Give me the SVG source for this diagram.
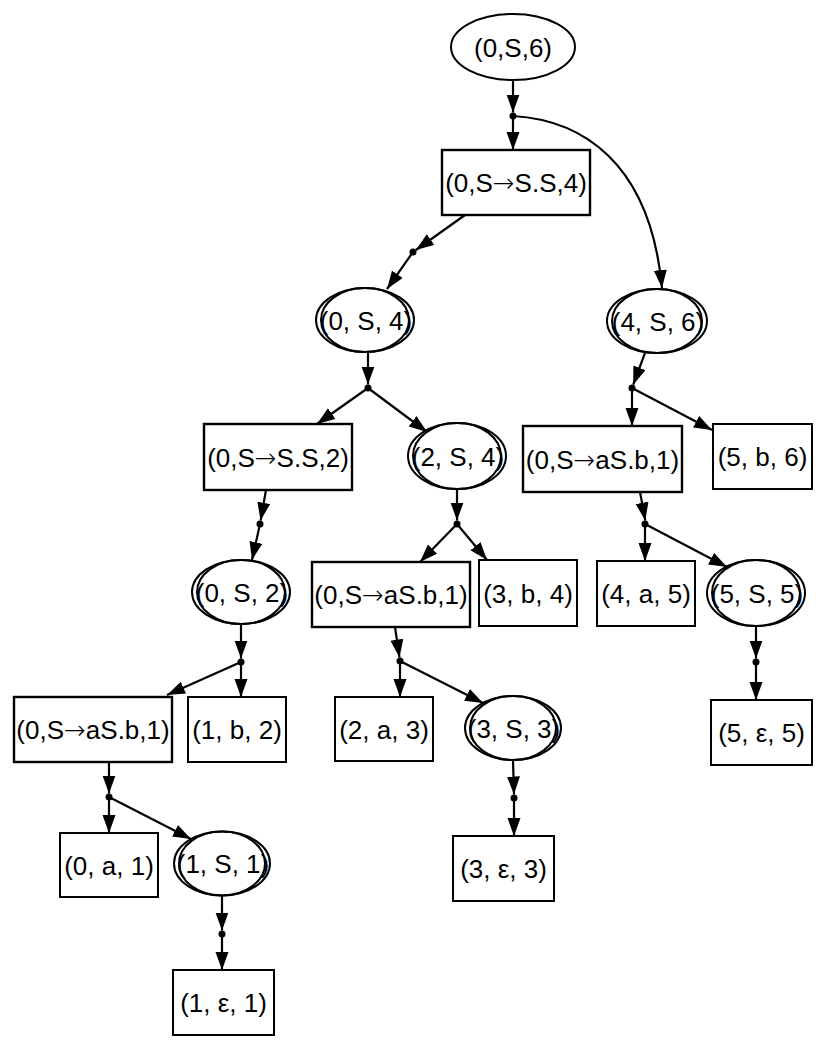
<svg xmlns="http://www.w3.org/2000/svg" width="830" height="1049" viewBox="0 0 830 1049">
<style>
  .n ellipse, .n rect { fill: none; stroke: #000; stroke-width: 2; }
  .n rect.rule { stroke-width: 2.4; }
  .n text { font-family: "Liberation Sans", Arial, sans-serif; font-size: 26px; text-anchor: middle; fill: #000; }
  .ar { font-family: "DejaVu Sans", sans-serif; font-size: 26px; font-weight: 200; }
  .dot { fill: #000; }
  #edges path { fill: none; stroke: #000; stroke-width: 2.2; marker-end: url(#arr); }
</style>
<defs>
  <marker id="arr" markerUnits="userSpaceOnUse" markerWidth="20" markerHeight="14" refX="18" refY="6.5" orient="auto">
    <path d="M0,0 L18,6.5 L0,13 Z" fill="#000"/>
  </marker>
</defs>
<rect width="830" height="1049" fill="#fff"/>

<g id="edges">
  <path d="M513,80 L513,112.5"/>
  <path d="M513,116 L513,150"/>
  <path d="M513,116 C580,120 650,160 662,288"/>
  <path d="M465,215 L415.9,250"/>
  <path d="M413,252 L387,289"/>
  <path d="M368,352 L368,384.5"/>
  <path d="M645,353 L633.2,384.7"/>
  <path d="M368,388 L317,424"/>
  <path d="M368,388 L427,432"/>
  <path d="M632,388 L632,426"/>
  <path d="M632,388 L712,430"/>
  <path d="M640,492 L645.3,520.6"/>
  <path d="M266,490 L260.6,520.5"/>
  <path d="M260,524 L252,560"/>
  <path d="M457,489 L457,520.5"/>
  <path d="M457,524 L420,562"/>
  <path d="M457,524 L487,560"/>
  <path d="M645,524 L645,561"/>
  <path d="M645,524 L727,567"/>
  <path d="M241,624 L241,658.5"/>
  <path d="M241,662 L167,695"/>
  <path d="M241,662 L241,697"/>
  <path d="M395,627 L399.5,657.5"/>
  <path d="M400,661 L400,697"/>
  <path d="M400,661 L483,703"/>
  <path d="M756,626 L756,658.5"/>
  <path d="M756,662 L756,700"/>
  <path d="M109,762 L109,793.5"/>
  <path d="M109,797 L109,833"/>
  <path d="M109,797 L191,839"/>
  <path d="M513,760 L514,794.5"/>
  <path d="M514,798 L514,836"/>
  <path d="M222,895 L222,930.5"/>
  <path d="M222,934 L222,970"/>
</g>

<g id="dots">
  <circle class="dot" id="d1" cx="513" cy="116" r="3.5"/>
  <circle class="dot" id="d2" cx="413" cy="252" r="3.5"/>
  <circle class="dot" id="d3" cx="368" cy="388" r="3.5"/>
  <circle class="dot" id="d4" cx="632" cy="388" r="3.5"/>
  <circle class="dot" id="d5" cx="260" cy="524" r="3.5"/>
  <circle class="dot" id="d6" cx="457" cy="524" r="3.5"/>
  <circle class="dot" id="d7" cx="645" cy="524" r="3.5"/>
  <circle class="dot" id="d8" cx="241" cy="662" r="3.5"/>
  <circle class="dot" id="d9" cx="400" cy="661" r="3.5"/>
  <circle class="dot" id="d10" cx="756" cy="662" r="3.5"/>
  <circle class="dot" id="d11" cx="109" cy="797" r="3.5"/>
  <circle class="dot" id="d12" cx="514" cy="798" r="3.5"/>
  <circle class="dot" id="d13" cx="222" cy="934" r="3.5"/>
</g>

<g id="n_0S6" class="n">
  <ellipse cx="513" cy="47" rx="62" ry="33"/>
  <text x="513" y="56.5">(0,S,6)</text>
</g>
<g id="r_0SSS4" class="n">
  <rect class="rule" x="442" y="150" width="148" height="65"/>
  <text x="516" y="192">(0,S<tspan class="ar">→</tspan>S.S,4)</text>
</g>
<g id="n_0S4" class="n">
  <ellipse cx="365" cy="320" rx="49" ry="32"/>
  <ellipse cx="365" cy="320" rx="44" ry="32"/>
  <text x="366" y="329.5">(0, S, 4)</text>
</g>
<g id="n_4S6" class="n">
  <ellipse cx="657" cy="321" rx="50" ry="32"/>
  <ellipse cx="657" cy="321" rx="45" ry="32"/>
  <text x="658" y="330.5">(4, S, 6)</text>
</g>
<g id="r_0SSS2" class="n">
  <rect class="rule" x="204" y="424" width="148" height="66"/>
  <text x="278" y="466.5">(0,S<tspan class="ar">→</tspan>S.S,2)</text>
</g>
<g id="n_2S4" class="n">
  <ellipse cx="457" cy="456" rx="49" ry="33"/>
  <ellipse cx="457" cy="456" rx="44" ry="33"/>
  <text x="458" y="465.5">(2, S, 4)</text>
</g>
<g id="r_R1" class="n">
  <rect class="rule" x="523" y="426" width="159" height="66"/>
  <text x="602.5" y="468.5">(0,S<tspan class="ar">→</tspan>aS.b,1)</text>
</g>
<g id="t_5b6" class="n">
  <rect x="713" y="424" width="99" height="65"/>
  <text x="762.5" y="465.5">(5, b, 6)</text>
</g>
<g id="n_0S2" class="n">
  <ellipse cx="241" cy="592" rx="49" ry="32"/>
  <ellipse cx="241" cy="592" rx="44" ry="32"/>
  <text x="242" y="601.5">(0, S, 2)</text>
</g>
<g id="r_M1" class="n">
  <rect class="rule" x="312" y="562" width="158" height="65"/>
  <text x="391" y="603.5">(0,S<tspan class="ar">→</tspan>aS.b,1)</text>
</g>
<g id="t_3b4" class="n">
  <rect x="479" y="560" width="98" height="66"/>
  <text x="528" y="602.5">(3, b, 4)</text>
</g>
<g id="t_4a5" class="n">
  <rect x="597" y="561" width="98" height="65"/>
  <text x="646" y="602.5">(4, a, 5)</text>
</g>
<g id="n_5S5" class="n">
  <ellipse cx="756" cy="593" rx="49" ry="33"/>
  <ellipse cx="756" cy="593" rx="44" ry="33"/>
  <text x="757" y="602.5">(5, S, 5)</text>
</g>
<g id="r_L1" class="n">
  <rect class="rule" x="14" y="697" width="158" height="65"/>
  <text x="93" y="738.5">(0,S<tspan class="ar">→</tspan>aS.b,1)</text>
</g>
<g id="t_1b2" class="n">
  <rect x="188" y="697" width="98" height="65"/>
  <text x="237" y="738.5">(1, b, 2)</text>
</g>
<g id="t_2a3" class="n">
  <rect x="335" y="697" width="98" height="64"/>
  <text x="384" y="738.5">(2, a, 3)</text>
</g>
<g id="n_3S3" class="n">
  <ellipse cx="513" cy="728" rx="48" ry="32"/>
  <ellipse cx="513" cy="728" rx="43" ry="32"/>
  <text x="514" y="737.5">(3, S, 3)</text>
</g>
<g id="t_5e5" class="n">
  <rect x="711" y="700" width="101" height="65"/>
  <text x="761.5" y="741.5">(5, ε, 5)</text>
</g>
<g id="t_0a1" class="n">
  <rect x="60" y="833" width="98" height="64"/>
  <text x="109" y="874.5">(0, a, 1)</text>
</g>
<g id="n_1S1" class="n">
  <ellipse cx="222" cy="863.5" rx="48" ry="32"/>
  <ellipse cx="222" cy="863.5" rx="43" ry="32"/>
  <text x="223" y="873">(1, S, 1)</text>
</g>
<g id="t_3e3" class="n">
  <rect x="453" y="836" width="101" height="65"/>
  <text x="503.5" y="877.5">(3, ε, 3)</text>
</g>
<g id="t_1e1" class="n">
  <rect x="173" y="970" width="101" height="65"/>
  <text x="223.5" y="1011.5">(1, ε, 1)</text>
</g>
</svg>
